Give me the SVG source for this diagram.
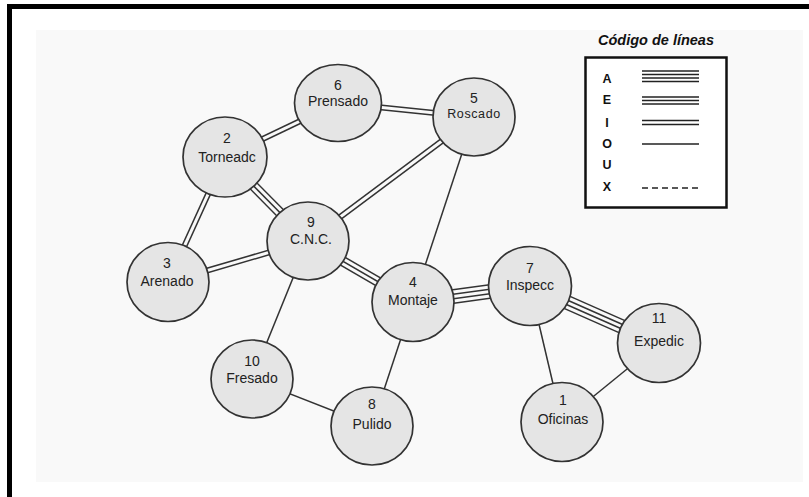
<svg xmlns="http://www.w3.org/2000/svg" xmlns:xlink="http://www.w3.org/1999/xlink" width="809" height="497" viewBox="0 0 809 497">
  <style>
    .node ellipse { fill: #e5e5e5; stroke: #333; stroke-width: 1.7; }
    .node text { font-family: "Liberation Sans", Arial, sans-serif; font-size: 14px; fill: #222; text-anchor: middle; }
    .k { stroke: #333; fill: none; }
    .g { stroke: #f9f9f9; fill: none; }
    .w1 { stroke-width: 1.5; }
    .w2 { stroke-width: 6; }
    .w3 { stroke-width: 10.5; }
    .w4 { stroke-width: 15; }
    .g2 { stroke-width: 3; }
    .g3 { stroke-width: 7.5; }
    .g4 { stroke-width: 12; }
    .leg text { font-family: "Liberation Sans", Arial, sans-serif; font-weight: bold; fill: #111; }
    .leg line { stroke: #222; stroke-width: 1.5; }
  </style>

  <!-- page background and frame -->
  <rect x="0" y="0" width="809" height="497" fill="#ffffff"/>
  <rect x="36" y="30" width="767" height="452" fill="#f9f9f9"/>
  <path d="M9.5,497 V6.5 H809" fill="none" stroke="#000" stroke-width="5"/>

  <defs>
    <line id="e65" x1="338" y1="103" x2="474" y2="117"/>
    <line id="e26" x1="225" y1="157" x2="338" y2="103"/>
    <line id="e29" x1="225" y1="157" x2="308" y2="241"/>
    <line id="e23" x1="225" y1="157" x2="168" y2="282"/>
    <line id="e39" x1="168" y1="282" x2="308" y2="241"/>
    <line id="e95" x1="308" y1="241" x2="474" y2="117"/>
    <line id="e94" x1="308" y1="241" x2="413" y2="302"/>
    <line id="e54" x1="474" y1="117" x2="413" y2="302"/>
    <line id="e910" x1="308" y1="241" x2="252" y2="379"/>
    <line id="e108" x1="252" y1="379" x2="372" y2="426"/>
    <line id="e48" x1="413" y1="302" x2="372" y2="426"/>
    <line id="e47" x1="413" y1="302" x2="530" y2="286"/>
    <line id="e711" x1="530" y1="286" x2="659" y2="343"/>
    <line id="e71" x1="530" y1="286" x2="562" y2="422"/>
    <line id="e111" x1="659" y1="343" x2="562" y2="422"/>
  </defs>

  <!-- connectors: layered strokes give 1 to 4 parallel lines -->
  <g id="connectors">
    <!-- two lines (I) -->
    <use xlink:href="#e65" class="k w2"/><use xlink:href="#e65" class="g g2"/>
    <use xlink:href="#e26" class="k w2"/><use xlink:href="#e26" class="g g2"/>
    <use xlink:href="#e23" class="k w2"/><use xlink:href="#e23" class="g g2"/>
    <use xlink:href="#e39" class="k w2"/><use xlink:href="#e39" class="g g2"/>
    <use xlink:href="#e95" class="k w2"/><use xlink:href="#e95" class="g g2"/>
    <!-- three lines (E) -->
    <use xlink:href="#e29" class="k w3"/><use xlink:href="#e29" class="g g3"/><use xlink:href="#e29" class="k w1"/>
    <use xlink:href="#e94" class="k w3"/><use xlink:href="#e94" class="g g3"/><use xlink:href="#e94" class="k w1"/>
    <!-- four lines (A) -->
    <use xlink:href="#e47" class="k w4"/><use xlink:href="#e47" class="g g4"/><use xlink:href="#e47" class="k w2"/><use xlink:href="#e47" class="g g2"/>
    <use xlink:href="#e711" class="k w4"/><use xlink:href="#e711" class="g g4"/><use xlink:href="#e711" class="k w2"/><use xlink:href="#e711" class="g g2"/>
    <!-- single lines (O) -->
    <use xlink:href="#e54" class="k w1"/>
    <use xlink:href="#e910" class="k w1"/>
    <use xlink:href="#e108" class="k w1"/>
    <use xlink:href="#e48" class="k w1"/>
    <use xlink:href="#e71" class="k w1"/>
    <use xlink:href="#e111" class="k w1"/>
  </g>

  <!-- departments -->
  <g id="n6" class="node">
    <ellipse cx="338" cy="103" rx="43.5" ry="38.5"/>
    <text x="338" y="90">6</text><text x="338" y="106">Prensado</text>
  </g>
  <g id="n5" class="node">
    <ellipse cx="474" cy="117" rx="41" ry="39"/>
    <text x="474" y="103">5</text><text x="474" y="118" style="font-size:12.5px;letter-spacing:0.6px">Roscado</text>
  </g>
  <g id="n2" class="node">
    <ellipse cx="225" cy="157" rx="42" ry="40"/>
    <text x="227" y="143">2</text><text x="227" y="162">Torneadc</text>
  </g>
  <g id="n9" class="node">
    <ellipse cx="308" cy="241" rx="41" ry="39"/>
    <text x="311" y="227">9</text><text x="311" y="244">C.N.C.</text>
  </g>
  <g id="n3" class="node">
    <ellipse cx="168" cy="282" rx="41" ry="39.5"/>
    <text x="167" y="268">3</text><text x="167" y="286">Arenado</text>
  </g>
  <g id="n10" class="node">
    <ellipse cx="252" cy="379" rx="41" ry="39"/>
    <text x="252" y="366">10</text><text x="252" y="383">Fresado</text>
  </g>
  <g id="n8" class="node">
    <ellipse cx="372" cy="426" rx="41" ry="39"/>
    <text x="372" y="409">8</text><text x="372" y="429">Pulido</text>
  </g>
  <g id="n4" class="node">
    <ellipse cx="413" cy="302" rx="41" ry="39.5"/>
    <text x="413" y="287">4</text><text x="413" y="305">Montaje</text>
  </g>
  <g id="n7" class="node">
    <ellipse cx="530" cy="286" rx="41.5" ry="39.5"/>
    <text x="530" y="273">7</text><text x="530" y="290">Inspecc</text>
  </g>
  <g id="n11" class="node">
    <ellipse cx="659" cy="343" rx="41.5" ry="39.5"/>
    <text x="659" y="323">11</text><text x="659" y="346">Expedic</text>
  </g>
  <g id="n1" class="node">
    <ellipse cx="562" cy="422" rx="41" ry="39.5"/>
    <text x="563" y="405">1</text><text x="563" y="424">Oficinas</text>
  </g>

  <!-- line-code legend -->
  <g id="legend" class="leg">
    <text x="656" y="45" style="font-size:14.5px;font-style:italic" text-anchor="middle">Código de líneas</text>
    <rect x="585.5" y="57.5" width="141" height="150" fill="#fff" stroke="#111" stroke-width="2.5"/>
    <g style="font-size:12.5px" text-anchor="middle">
      <text x="607" y="83">A</text>
      <text x="607" y="104">E</text>
      <text x="607" y="127">I</text>
      <text x="607" y="148">O</text>
      <text x="607" y="169">U</text>
      <text x="607" y="191">X</text>
    </g>
    <line x1="642" y1="71" x2="699" y2="71"/>
    <line x1="642" y1="74.5" x2="699" y2="74.5"/>
    <line x1="642" y1="78" x2="699" y2="78"/>
    <line x1="642" y1="81.5" x2="699" y2="81.5"/>
    <line x1="642" y1="97" x2="699" y2="97"/>
    <line x1="642" y1="100.5" x2="699" y2="100.5"/>
    <line x1="642" y1="104" x2="699" y2="104"/>
    <line x1="642" y1="120.5" x2="699" y2="120.5"/>
    <line x1="642" y1="124.5" x2="699" y2="124.5"/>
    <line x1="642" y1="144" x2="699" y2="144"/>
    <line x1="642" y1="188" x2="699" y2="188" stroke-dasharray="6 4"/>
  </g>
</svg>
